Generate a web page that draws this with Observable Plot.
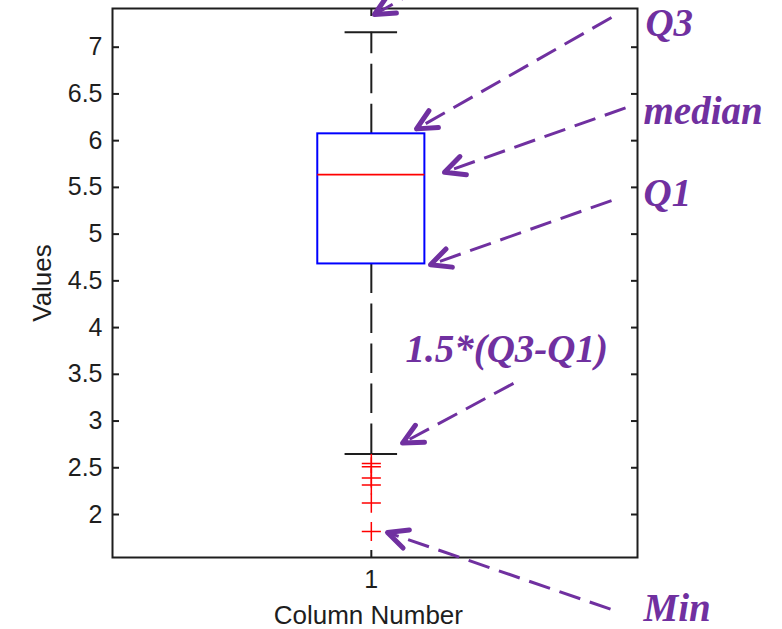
<!DOCTYPE html>
<html>
<head>
<meta charset="utf-8">
<script src="https://cdn.jsdelivr.net/npm/d3@7"></script>
<script src="https://cdn.jsdelivr.net/npm/@observablehq/plot@0.6"></script>
<style>
  html, body { margin: 0; padding: 0; background: #fff; }
</style>
</head>
<body>
<div id="chart"></div>
<script>
// ---- data ----
const categories = [1];
const columnLabels = ["1"];
const q1Values = [4.681];
const medianValues = [5.637];
const q3Values = [6.073];
const whiskerLowValues = [2.647];
const whiskerHighValues = [7.161];
const outlierValues = [2.546, 2.511, 2.390, 2.315, 2.122, 1.818];
const yTicks = [2, 2.5, 3, 3.5, 4, 4.5, 5, 5.5, 6, 6.5, 7];
const yTickLabels = ["2", "2.5", "3", "3.5", "4", "4.5", "5", "5.5", "6", "6.5", "7"];

// annotations (data coordinates)
const annotationLabels = ["Q3", "median", "Q1", "1.5*(Q3-Q1)", "Min"];
const annotationX = [1.522, 1.5185, 1.5185, 1.065, 1.5185];
const annotationY = [7.125, 6.180, 5.305, 3.627, 0.862];
const arrowFromX = [1.4575, 1.4842, 1.4575, 1.2708, 1.4556, 1.0937];
const arrowFromY = [7.318, 6.351, 5.359, 3.403, 0.987, 7.628];
const arrowToX = [1.086, 1.1394, 1.1127, 1.0594, 1.0308, 1.006];
const arrowToY = [6.126, 5.662, 4.673, 2.764, 1.807, 7.350];

// ---- layout constants ----
const BOX_HALF = 0.102;
const CAP_HALF = 0.05;
const PURPLE = "#7030a0";
const INK = "#1e1e1e";

const boxes = categories.map((c, i) => ({
  x: c, q1: q1Values[i], median: medianValues[i], q3: q3Values[i],
  lo: whiskerLowValues[i], hi: whiskerHighValues[i]
}));
const outliers = outlierValues.map(v => ({x: categories[0], y: v}));
const annotations = annotationLabels.map((t, i) => ({text: t, x: annotationX[i], y: annotationY[i]}));
const arrows = arrowFromX.map((x, i) => ({x1: x, y1: arrowFromY[i], x2: arrowToX[i], y2: arrowToY[i]}));

function chevron(color) {
  const ns = "http://www.w3.org/2000/svg";
  const m = document.createElementNS(ns, "marker");
  m.setAttribute("viewBox", "-30 -15 40 30");
  m.setAttribute("markerWidth", "40");
  m.setAttribute("markerHeight", "30");
  m.setAttribute("refX", "0");
  m.setAttribute("refY", "0");
  m.setAttribute("markerUnits", "userSpaceOnUse");
  m.setAttribute("orient", "auto");
  m.setAttribute("overflow", "visible");
  const p = document.createElementNS(ns, "path");
  p.setAttribute("d", "M-19.8,-9.6L0,0L-19.8,9.6");
  p.setAttribute("fill", "none");
  p.setAttribute("stroke", color);
  p.setAttribute("stroke-width", "5");
  p.setAttribute("stroke-dasharray", "none");
  p.setAttribute("stroke-linecap", "round");
  p.setAttribute("stroke-linejoin", "round");
  m.appendChild(p);
  return m;
}

const fmtY = d => yTickLabels[yTicks.indexOf(d)];
const fmtX = d => columnLabels[categories.indexOf(d)];

const chart = Plot.plot({
  width: 782,
  height: 629,
  marginLeft: 112,
  marginRight: 145,
  marginTop: 8,
  marginBottom: 72,
  style: {background: "#fff", fontFamily: "'Liberation Sans', Arial, sans-serif", color: INK},
  x: {domain: [0.507, 1.507], axis: null},
  y: {domain: [1.540, 7.414], axis: null},
  marks: [
    // whiskers (dashed)
    Plot.ruleX(boxes, {x: "x", y1: "q3", y2: "hi", stroke: INK, strokeWidth: 2, strokeDasharray: "29.5,10.5"}),
    Plot.ruleX(boxes, {x: "x", y1: "q1", y2: "lo", stroke: INK, strokeWidth: 2, strokeDasharray: "29.5,10.5"}),
    // caps
    Plot.ruleY(boxes, {y: "hi", x1: d => d.x - CAP_HALF, x2: d => d.x + CAP_HALF, stroke: INK, strokeWidth: 2}),
    Plot.ruleY(boxes, {y: "lo", x1: d => d.x - CAP_HALF, x2: d => d.x + CAP_HALF, stroke: INK, strokeWidth: 2}),
    // box
    Plot.rect(boxes, {x1: d => d.x - BOX_HALF, x2: d => d.x + BOX_HALF, y1: "q1", y2: "q3", fill: "none", stroke: "#0000ff", strokeWidth: 2}),
    // median
    Plot.ruleY(boxes, {y: "median", x1: d => d.x - BOX_HALF, x2: d => d.x + BOX_HALF, stroke: "#ff0000", strokeWidth: 1.7}),
    // outliers
    Plot.dot(outliers, {x: "x", y: "y", symbol: "plus", r: 6.2, stroke: "#ff0000", strokeWidth: 1.5}),
    // frame and inward ticks
    Plot.frame({stroke: INK, strokeWidth: 2}),
    Plot.axisY({ticks: yTicks, anchor: "left", tickSize: 7, dx: 7, fill: "none", stroke: INK, strokeWidth: 2, label: null}),
    Plot.axisY({ticks: yTicks, anchor: "right", tickSize: 7, dx: -7, fill: "none", stroke: INK, strokeWidth: 2, label: null}),
    Plot.axisX({ticks: categories, anchor: "bottom", tickSize: 7, dy: -7, fill: "none", stroke: INK, strokeWidth: 2, label: null}),
    Plot.axisX({ticks: categories, anchor: "top", tickSize: 7, dy: 7, fill: "none", stroke: INK, strokeWidth: 2, label: null}),
    // tick labels
    Plot.axisY({ticks: yTicks, tickFormat: fmtY, anchor: "left", tickSize: 0, tickPadding: 10, fontSize: 25, fill: INK, label: null}),
    Plot.axisX({ticks: categories, tickFormat: fmtX, anchor: "bottom", tickSize: 0, tickPadding: 13, fontSize: 25, fill: INK, label: null}),
    // axis titles
    Plot.text(["Values"], {frameAnchor: "left", text: d => d, rotate: -90, dx: -62, lineAnchor: "bottom", textAnchor: "middle", fontSize: 26, fill: INK}),
    Plot.text(["Column Number"], {x: () => categories[0], frameAnchor: "bottom", text: d => d, dx: -3, dy: 66, lineAnchor: "bottom", textAnchor: "middle", fontSize: 26, fill: INK}),
    // annotation arrows
    Plot.link(arrows, {x1: "x1", y1: "y1", x2: "x2", y2: "y2", stroke: PURPLE, strokeWidth: 3, strokeDasharray: "22,10", markerEnd: chevron}),
    // annotation labels
    Plot.text(annotations, {x: "x", y: "y", text: "text", textAnchor: "start", lineAnchor: "bottom",
      fontFamily: "'Liberation Serif', 'Times New Roman', serif", fontWeight: "bold", fontStyle: "italic", fontSize: 39, fill: PURPLE})
  ]
});

document.getElementById("chart").appendChild(chart);
</script>
</body>
</html>
